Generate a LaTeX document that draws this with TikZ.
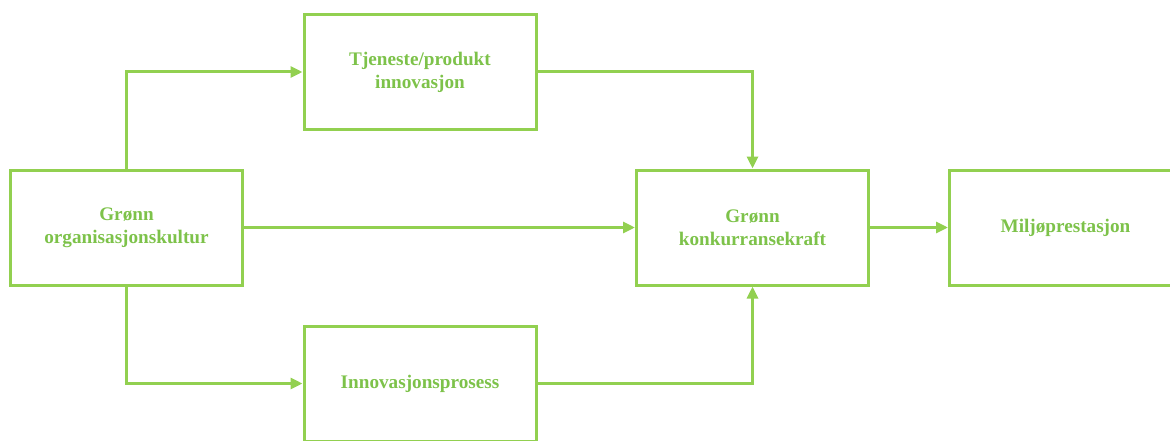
\documentclass[tikz,border=0pt]{standalone}
\usepackage{fontspec}
\setmainfont{Liberation Serif}
\usetikzlibrary{arrows.meta}

\definecolor{linegreen}{HTML}{92D050}
\definecolor{textgreen}{HTML}{7DC24A}

\tikzset{
  box/.style={draw=linegreen, line width=1.5pt, minimum width=116pt, minimum height=57.5pt,
    align=center, text=textgreen, font=\fontsize{9.6}{11.5}\selectfont\bfseries},
  arr/.style={draw=linegreen, line width=1.5pt, -{Triangle[length=6pt,width=5.5pt]}}
}

\begin{document}
\begin{tikzpicture}[x=0.5pt, y=0.5pt]
  \useasboundingbox (0,0) rectangle (1170,440);
  \node[box] (org) at (126.5,212.5) {Grønn\\organisasjonskultur};
  \node[box] (tjen) at (420,368) {Tjeneste/produkt\\innovasjon};
  \node[box] (innov) at (420,56.5) {Innovasjonsprosess};
  \node[box] (konk) at (752.5,212.5) {Grønn\\konkurransekraft};
  \node[box] (milj) at (1065.5,212.5) {Miljøprestasjon};
  \draw[arr] (org.north) |- (tjen.west);
  \draw[arr] (tjen.east) -| (konk.north);
  \draw[arr] (org.east) -- (konk.west);
  \draw[arr] (org.south) |- (innov.west);
  \draw[arr] (innov.east) -| (konk.south);
  \draw[arr] (konk.east) -- (milj.west);
\end{tikzpicture}
\end{document}
